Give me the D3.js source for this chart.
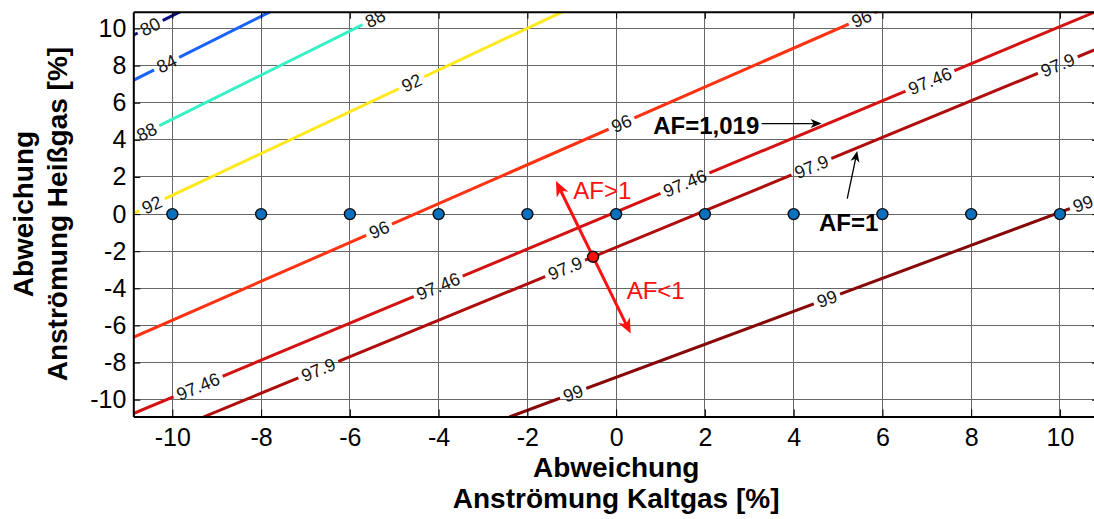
<!DOCTYPE html>
<html>
<head>
<meta charset="utf-8">
<script src="https://cdn.jsdelivr.net/npm/d3@7"></script>
<style>
  html, body { margin: 0; padding: 0; background: #ffffff; }
  svg { display: block; font-family: Arial, "Liberation Sans", sans-serif; }
</style>
</head>
<body>
<svg id="chart" width="1094" height="519"></svg>
<script>
// ---- data ----------------------------------------------------------------
const xTicks = [-10, -8, -6, -4, -2, 0, 2, 4, 6, 8, 10];
const yTicks = [-10, -8, -6, -4, -2, 0, 2, 4, 6, 8, 10];

// efficiency isolines, vertices as [Kaltgas deviation, Heißgas deviation]
const levels = ["80", "84", "88", "92", "96", "97.46", "97.9", "99"];
const levelColors = ["#0d0d80", "#1862ff", "#3af0c6", "#ffe81c", "#ff3312", "#d41212", "#b00d0d", "#870808"];
const line80 = [[-10.88, 9.64], [-9.83, 10.9]];
const line84 = [[-10.88, 7.21], [-7.80, 10.9]];
const line88 = [[-10.88, 4.07], [-5.13, 10.9]];
const line92 = [[-10.88, 0.03], [-1.21, 10.9]];
const line96 = [[-10.88, -6.64], [5.87, 10.9]];
const line9746 = [[-10.88, -10.75], [10.76, 10.86]];
const line979 = [[-9.29, -10.92], [-0.52, -2.30], [10.76, 8.83]];
const line99 = [[-2.39, -10.92], [10.88, 0.88]];
const isolines = [line80, line84, line88, line92, line96, line9746, line979, line99];

// x positions of the inline level labels
const labels80 = [-10.50];
const labels84 = [-10.13];
const labels88 = [-10.58, -5.43];
const labels92 = [-10.46, -4.61];
const labels96 = [-5.34, 0.12, 5.53];
const labels9746 = [-9.42, -4.01, 1.55, 7.07];
const labels979 = [-6.71, -1.15, 4.40, 9.95];
const labels99 = [-0.97, 4.75, 10.52];
const labelSets = [labels80, labels84, labels88, labels92, labels96, labels9746, labels979, labels99];

// measured operating points (Heißgas deviation 0)
const pointX = [-10, -8, -6, -4, -2, 0, 2, 4, 6, 8, 10];
const pointY = [0, 0, 0, 0, 0, 0, 0, 0, 0, 0, 0];
// selected operating point on the AF = 1 line
const opPoint = [-0.52, -2.30];
// direction arrow through the operating point
const dirArrowStart = [-1.356, 1.78];
const dirArrowEnd = [0.327, -6.44];

// ---- layout ----------------------------------------------------------------
const W = 1094, H = 519;
const x = d3.scaleLinear().domain([-10.88, 10.88]).range([133.3, 1099]);
const y = d3.scaleLinear().domain([-10.9, 10.9]).range([416.4, 11.8]);
const [x0, x1] = x.range();
const [y0, y1] = y.range();

const svg = d3.select("#chart");
const defs = svg.append("defs");
defs.append("clipPath").attr("id", "plotArea")
  .append("rect").attr("x", x0).attr("y", y1).attr("width", x1 - x0).attr("height", y0 - y1);

// ---- grid ------------------------------------------------------------------
const grid = svg.append("g").attr("stroke", "#666666").attr("stroke-width", 1)
  .attr("shape-rendering", "crispEdges");
grid.selectAll("line.vx").data(xTicks).join("line").attr("class", "vx")
  .attr("x1", d => x(d)).attr("x2", d => x(d)).attr("y1", y0).attr("y2", y1);
grid.selectAll("line.hy").data(yTicks).join("line").attr("class", "hy")
  .attr("y1", d => y(d)).attr("y2", d => y(d)).attr("x1", x0).attr("x2", x1);

// ---- isolines with inline labels ---------------------------------------------
function locate(poly, xv) {
  let i = 0;
  while (i < poly.length - 2 && xv > poly[i + 1][0]) i++;
  const a = poly[i], b = poly[i + 1];
  const t = (xv - a[0]) / (b[0] - a[0]);
  const yv = a[1] + t * (b[1] - a[1]);
  const ang = Math.atan2(y(b[1]) - y(a[1]), x(b[0]) - x(a[0])) * 180 / Math.PI;
  return { sx: x(xv), sy: y(yv), ang };
}

const lineGen = d3.line().x(d => x(d[0])).y(d => y(d[1]));
const contourLayer = svg.append("g").attr("clip-path", "url(#plotArea)");
const labelLayer = svg.append("g").attr("clip-path", "url(#plotArea)");
const labelSize = 18;

isolines.forEach((poly, i) => {
  const mask = defs.append("mask").attr("id", "gap" + i)
    .attr("maskUnits", "userSpaceOnUse")
    .attr("x", 0).attr("y", 0).attr("width", W).attr("height", H);
  mask.append("rect").attr("width", W).attr("height", H).attr("fill", "#fff");

  labelSets[i].forEach(lx => {
    const p = locate(poly, lx);
    const t = labelLayer.append("text")
      .attr("transform", `translate(${p.sx},${p.sy}) rotate(${p.ang})`)
      .attr("text-anchor", "middle").attr("dy", "0.35em")
      .attr("font-size", labelSize).attr("fill", "#141414")
      .text(levels[i]);
    const tw = t.node().getComputedTextLength();
    const gw = tw + 8;
    mask.append("rect")
      .attr("x", -gw / 2).attr("y", -labelSize * 0.6)
      .attr("width", gw).attr("height", labelSize * 1.2)
      .attr("transform", `translate(${p.sx},${p.sy}) rotate(${p.ang})`)
      .attr("fill", "#000");
  });

  contourLayer.append("path")
    .datum(poly)
    .attr("d", lineGen)
    .attr("fill", "none")
    .attr("stroke", levelColors[i])
    .attr("stroke-width", 3)
    .attr("stroke-linecap", "round")
    .attr("mask", `url(#gap${i})`);
});
labelLayer.raise();

// ---- points ----------------------------------------------------------------
svg.append("g").selectAll("circle").data(pointX).join("circle")
  .attr("cx", d => x(d)).attr("cy", (d, i) => y(pointY[i])).attr("r", 5.5)
  .attr("fill", "#0a6fbd").attr("stroke", "#0b0b0b").attr("stroke-width", 1.4);

// ---- arrows ----------------------------------------------------------------
function arrowHead(g, from, to, len, half, color) {
  const dx = to[0] - from[0], dy = to[1] - from[1];
  const L = Math.hypot(dx, dy);
  const ux = dx / L, uy = dy / L, nx = -uy, ny = ux;
  const bx = to[0] - ux * len, by = to[1] - uy * len;
  const pts = [
    [to[0], to[1]],
    [bx + nx * half, by + ny * half],
    [to[0] - ux * len * 0.72, to[1] - uy * len * 0.72],
    [bx - nx * half, by - ny * half]
  ];
  g.append("polygon").attr("points", pts.map(p => p.join(",")).join(" ")).attr("fill", color);
}
function arrow(g, a, b, color, width, len, half, both) {
  const pa = [x(a[0]), y(a[1])], pb = [x(b[0]), y(b[1])];
  const dx = pb[0] - pa[0], dy = pb[1] - pa[1], L = Math.hypot(dx, dy);
  const ux = dx / L, uy = dy / L;
  const s = both ? [pa[0] + ux * len * 0.7, pa[1] + uy * len * 0.7] : pa;
  const e = [pb[0] - ux * len * 0.7, pb[1] - uy * len * 0.7];
  g.append("line").attr("x1", s[0]).attr("y1", s[1]).attr("x2", e[0]).attr("y2", e[1])
    .attr("stroke", color).attr("stroke-width", width);
  arrowHead(g, pa, pb, len, half, color);
  if (both) arrowHead(g, pb, pa, len, half, color);
}

const notes = svg.append("g");
arrow(notes, dirArrowStart, dirArrowEnd, "#ff1010", 3, 15, 6.5, true);
notes.append("circle").attr("cx", x(opPoint[0])).attr("cy", y(opPoint[1])).attr("r", 5.5)
  .attr("fill", "#ff0d0d").attr("stroke", "#0b0b0b").attr("stroke-width", 1.4);

notes.append("text").attr("x", x(-0.967)).attr("y", y(0.836))
  .attr("font-size", 24).attr("fill", "#ff1010").text("AF>1");
notes.append("text").attr("x", x(0.237)).attr("y", y(-4.555))
  .attr("font-size", 24).attr("fill", "#ff1010").text("AF<1");

notes.append("text").attr("x", x(0.836)).attr("y", y(4.334))
  .attr("font-size", 24).attr("font-weight", "bold").attr("fill", "#000").text("AF=1,019");
arrow(notes, [3.278, 4.879], [4.63, 4.879], "#000", 1.3, 11, 4.5, false);

notes.append("text").attr("x", x(4.569)).attr("y", y(-0.9))
  .attr("font-size", 24).attr("font-weight", "bold").attr("fill", "#000").text("AF=1");
arrow(notes, [5.207, 0.836], [5.432, 3.40], "#000", 1.3, 11, 4.5, false);

// ---- axes ------------------------------------------------------------------
const tickFont = 25;
const axB = svg.append("g").attr("transform", `translate(0,${y0})`)
  .call(d3.axisBottom(x).tickValues(xTicks).tickSize(-7).tickSizeOuter(0).tickPadding(12)
    .tickFormat(d3.format("d")));
const axL = svg.append("g").attr("transform", `translate(${x0},0)`)
  .call(d3.axisLeft(y).tickValues(yTicks).tickSize(-7).tickSizeOuter(0).tickPadding(7)
    .tickFormat(d3.format("d")));
const axT = svg.append("g").attr("transform", `translate(0,${y1})`)
  .call(d3.axisTop(x).tickValues(xTicks).tickSize(-7).tickSizeOuter(0).tickFormat(""));
const axR = svg.append("g").attr("transform", `translate(${x1},0)`)
  .call(d3.axisRight(y).tickValues(yTicks).tickSize(-7).tickSizeOuter(0).tickFormat(""));

[axB, axL, axT, axR].forEach(g => {
  g.select(".domain").attr("stroke", "#000").attr("stroke-width", 2);
  g.selectAll(".tick line").attr("stroke", "#000").attr("stroke-width", 1);
  g.selectAll(".tick text").attr("font-size", tickFont).attr("fill", "#000")
    .attr("font-family", "Arial, 'Liberation Sans', sans-serif")
    .text(function () { return this.textContent.replace("\u2212", "-"); });
});

// axis titles
const xMid = x(0);
svg.append("text").attr("x", xMid).attr("y", 477).attr("text-anchor", "middle")
  .attr("font-size", 28).attr("font-weight", "bold").text("Abweichung");
svg.append("text").attr("x", xMid).attr("y", 508).attr("text-anchor", "middle")
  .attr("font-size", 28).attr("font-weight", "bold").text("Anströmung Kaltgas [%]");

const yMid = (y0 + y1) / 2;
svg.append("text").attr("transform", `translate(33,${yMid}) rotate(-90)`).attr("text-anchor", "middle")
  .attr("font-size", 28).attr("font-weight", "bold").text("Abweichung");
svg.append("text").attr("transform", `translate(67,${yMid}) rotate(-90)`).attr("text-anchor", "middle")
  .attr("font-size", 28).attr("font-weight", "bold").text("Anströmung Heißgas [%]");
</script>
</body>
</html>
